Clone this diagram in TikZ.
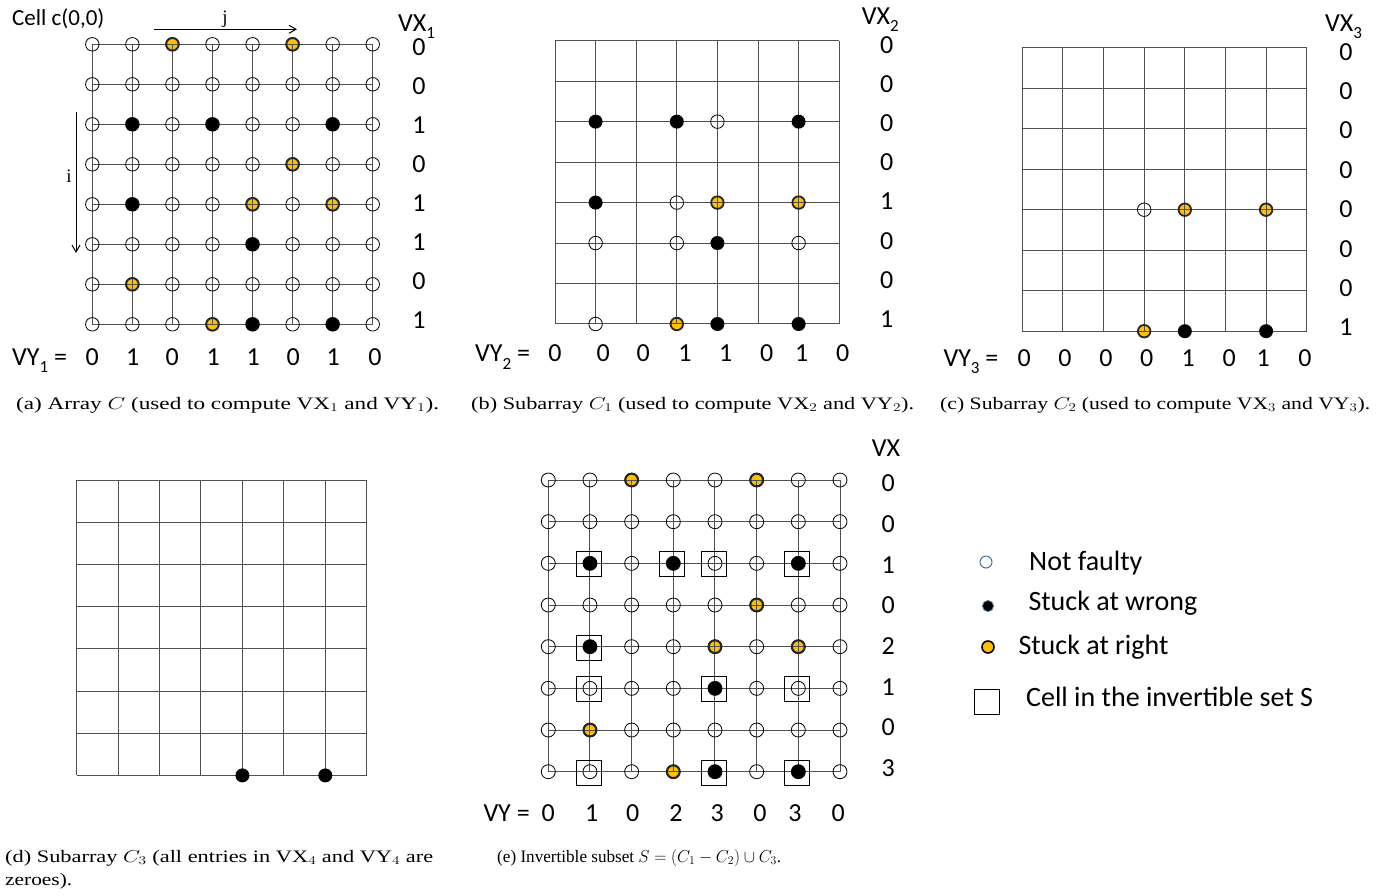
\documentclass[tikz,border=0pt]{standalone}
\usepackage{fontspec}
\setmainfont{Liberation Serif}
\newfontfamily\calib{Carlito}
\usetikzlibrary{arrows.meta}
\definecolor{dotorange}{RGB}{255,192,0}
\definecolor{legblue}{RGB}{65,113,156}
\definecolor{gridgray}{RGB}{80,80,80}
\newcommand{\mysub}[1]{\raisebox{-0.3em}{\fontsize{17}{17}\selectfont #1}}
\newcommand{\capt}[2]{\resizebox{#1}{\height}{\fontsize{17.5}{20}\selectfont #2}}
\begin{document}
\begin{tikzpicture}[x=1pt,y=-1pt,
  gridl/.style={draw=gridgray, line width=1pt},
  opn/.style={circle, draw=black, line width=0.8pt, inner sep=0pt, minimum size=13.5pt},
  orgo/.style={circle, draw=black!85, line width=1.8pt, inner sep=0pt, minimum size=12.5pt},
  blk/.style={circle, fill=black, inner sep=0pt, minimum size=14pt},
  sel/.style={rectangle, draw=black, line width=1.2pt, inner sep=0pt, minimum size=25pt},
  vlab/.style={font=\calib\fontsize{26}{26}\selectfont, anchor=base, inner sep=0pt},
  vhead/.style={font=\calib\fontsize{26}{26}\selectfont, anchor=base west, inner sep=0pt},
  legtxt/.style={font=\calib\fontsize{28}{28}\selectfont, anchor=base west, inner sep=0pt},
  captxt/.style={anchor=base west, inner sep=0pt},
  axarrow/.style={line width=1pt, -{Straight Barb[length=7pt,width=8pt]}}
]
\useasboundingbox (0,0) rectangle (1392,895);

% ---------------- Panel (a) ----------------
\foreach \r/\c in {0/2,0/5,3/5,4/4,4/6,6/1,7/3}
  \fill[dotorange] ({92.3+40.06*\c},{44.3+40*\r}) circle[radius=6.5pt];
\foreach \k in {0,...,7}{
  \draw[gridl] ({92.3+40.06*\k},44.3) -- ({92.3+40.06*\k},324.3);
  \draw[gridl] (92.3,{44.3+40*\k}) -- (372.7,{44.3+40*\k});
}
\foreach \r in {0,...,7}
  \foreach \c in {0,...,7}
    \node[opn] (a-\r-\c) at ({92.3+40.06*\c},{44.3+40*\r}) {};
\foreach \r/\c in {0/2,0/5,3/5,4/4,4/6,6/1,7/3}
  \node[orgo] (ao-\r-\c) at ({92.3+40.06*\c},{44.3+40*\r}) {};
\foreach \r/\c in {2/1,2/3,2/6,4/1,5/4,7/4,7/6}
  \node[blk] (ab-\r-\c) at ({92.3+40.06*\c},{44.3+40*\r}) {};
\node[vhead, font=\calib\fontsize{23}{23}\selectfont] (cell) at (12,25) {Cell c(0,0)};
\node[font=\fontsize{19}{19}\selectfont] (jlab) at (225,19) {j};
\node[font=\fontsize{19}{19}\selectfont] (ilab) at (69,176) {i};
\coordinate (js) at (154.3,29.3);
\coordinate (je) at (297,29.3);
\draw[axarrow] (js) -- (je);
\coordinate (is) at (76,112);
\coordinate (ie) at (76,253);
\draw[axarrow] (is) -- (ie);
\node[vhead] (vxa) at (398,31) {VX\mysub{1}};
\foreach \v [count=\i from 0] in {0,0,1,0,1,1,0,1}
  \node[vlab] (vxa-\i) at (419,{55+39*\i}) {\v};
\node[vhead] (vya) at (12,365) {VY\mysub{1} =};
\foreach \xx/\v [count=\i] in {92.3/0,132.7/1,172.3/0,213.3/1,253.3/1,293.3/0,333.3/1,375/0}
  \node[vlab] (vya-\i) at (\xx,365) {\v};
\node[captxt] (capa) at (16,409) {\capt{423pt}{(a) Array $C$ (used to compute VX$_1$ and VY$_1$).}};

% ---------------- Panel (b) ----------------
\foreach \r/\c in {4/4,4/6,7/3}
  \fill[dotorange] ({555+40.6*\c},{40.7+40.47*\r}) circle[radius=6.5pt];
\foreach \k in {0,...,7}{
  \draw[gridl] ({555+40.6*\k},40.7) -- ({555+40.6*\k},324);
  \draw[gridl] (555,{40.7+40.47*\k}) -- (839.2,{40.7+40.47*\k});
}
\foreach \r/\c in {2/4,4/3,5/1,5/3,5/6,7/1}
  \node[opn] (b-\r-\c) at ({555+40.6*\c},{40.7+40.47*\r}) {};
\foreach \r/\c in {4/4,4/6,7/3}
  \node[orgo] (bo-\r-\c) at ({555+40.6*\c},{40.7+40.47*\r}) {};
\foreach \r/\c in {2/1,2/3,2/6,4/1,5/4,7/4,7/6}
  \node[blk] (bb-\r-\c) at ({555+40.6*\c},{40.7+40.47*\r}) {};
\node[vhead] (vxb) at (861.7,24) {VX\mysub{2}};
\foreach \v [count=\i from 0] in {0,0,0,0,1,0,0,1}
  \node[vlab] (vxb-\i) at (886.7,{53.5+39.1*\i}) {\v};
\node[vhead] (vyb) at (475,361.7) {VY\mysub{2} =};
\foreach \xx/\v [count=\i] in {555/0,603.3/0,643.3/0,685/1,725.7/1,766.7/0,801.7/1,842.7/0}
  \node[vlab] (vyb-\i) at (\xx,361.7) {\v};
\node[captxt] (capb) at (471,409) {\capt{443pt}{(b) Subarray $C_1$ (used to compute VX$_2$ and VY$_2$).}};

% ---------------- Panel (c) ----------------
\foreach \r/\c in {4/4,4/6,7/3}
  \fill[dotorange] ({1022.3+40.63*\c},{47.7+40.5*\r}) circle[radius=6.5pt];
\foreach \k in {0,...,7}{
  \draw[gridl] ({1022.3+40.63*\k},47.7) -- ({1022.3+40.63*\k},331.2);
  \draw[gridl] (1022.3,{47.7+40.5*\k}) -- (1306.7,{47.7+40.5*\k});
}
\node[opn] (c-4-3) at ({1022.3+40.63*3},{47.7+40.5*4}) {};
\foreach \r/\c in {4/4,4/6,7/3}
  \node[orgo] (co-\r-\c) at ({1022.3+40.63*\c},{47.7+40.5*\r}) {};
\foreach \r/\c in {7/4,7/6}
  \node[blk] (cb-\r-\c) at ({1022.3+40.63*\c},{47.7+40.5*\r}) {};
\node[vhead] (vxc) at (1325,31) {VX\mysub{3}};
\foreach \v [count=\i from 0] in {0,0,0,0,0,0,0,1}
  \node[vlab] (vxc-\i) at (1346,{60+39.4*\i}) {\v};
\node[vhead] (vyc) at (943.3,366) {VY\mysub{3} =};
\foreach \xx/\v [count=\i] in {1024.3/0,1065/0,1106/0,1146.7/0,1188.3/1,1229.3/0,1263.3/1,1305/0}
  \node[vlab] (vyc-\i) at (\xx,366) {\v};
\node[captxt] (capc) at (940,409) {\capt{430pt}{(c) Subarray $C_2$ (used to compute VX$_3$ and VY$_3$).}};

% ---------------- Panel (d) ----------------
\foreach \k in {0,...,7}{
  \draw[gridl] ({76.7+41.43*\k},480) -- ({76.7+41.43*\k},775.4);
  \draw[gridl] (76.7,{480+42.2*\k}) -- (366.7,{480+42.2*\k});
}
\foreach \r/\c in {7/4,7/6}
  \node[blk] (db-\r-\c) at ({76.7+41.43*\c},{480+42.2*\r}) {};
\node[captxt] (capd1) at (5,862) {\capt{428pt}{(d) Subarray $C_3$ (all entries in VX$_4$ and VY$_4$ are}};
\node[captxt] (capd2) at (5,885.3) {\capt{67pt}{zeroes).}};

% ---------------- Panel (e) ----------------
\foreach \r/\c in {0/2,0/5,3/5,4/4,4/6,6/1,7/3}
  \fill[dotorange] ({548.3+41.67*\c},{480+41.67*\r}) circle[radius=6.5pt];
\foreach \k in {0,...,7}{
  \draw[gridl] ({548.3+41.67*\k},480) -- ({548.3+41.67*\k},771.7);
  \draw[gridl] (548.3,{480+41.67*\k}) -- (840,{480+41.67*\k});
}
\foreach \r in {0,...,7}
  \foreach \c in {0,...,7}
    \node[opn, minimum size=14pt] (e-\r-\c) at ({548.3+41.67*\c},{480+41.67*\r}) {};
\foreach \r/\c in {0/2,0/5,3/5,4/4,4/6,6/1,7/3}
  \node[orgo] (eo-\r-\c) at ({548.3+41.67*\c},{480+41.67*\r}) {};
\foreach \r/\c in {2/1,2/3,2/6,4/1,5/4,7/4,7/6}
  \node[blk] (eb-\r-\c) at ({548.3+41.67*\c},{480+41.67*\r}) {};
\foreach \r/\c in {2/1,2/3,2/4,2/6,4/1,5/1,5/4,5/6,7/1,7/4,7/6}
  \node[sel] (es-\r-\c) at ({548.3+41.67*\c-1},{480+41.67*\r+1}) {};
\node[vhead] (vxe) at (871.7,456.7) {VX};
\foreach \v [count=\i from 0] in {0,0,1,0,2,1,0,3}
  \node[vlab] (vxe-\i) at (888.3,{491.7+40.7*\i}) {\v};
\node[vhead] (vye) at (483.3,821.7) {VY =};
\foreach \xx/\v [count=\i] in {548.3/0,591.7/1,632.7/0,676/2,717.3/3,760/0,795/3,838.3/0}
  \node[vlab] (vye-\i) at (\xx,821.7) {\v};
\node[captxt] (cape) at (497,862) {\capt{284pt}{(e) Invertible subset $S = (C_1 - C_2) \cup C_3$.}};

% ---------------- Legend ----------------
\node[circle, draw=legblue, line width=1pt, inner sep=0pt, minimum size=12pt] (lg1) at (986,562) {};
\node[legtxt] (lt1) at (1029,570.7) {Not faulty};
\node[circle, fill=black, draw=legblue, line width=0.8pt, inner sep=0pt, minimum size=11pt] (lg2) at (988,606) {};
\node[legtxt] (lt2) at (1028.3,610) {Stuck at wrong};
\node[circle, fill=dotorange, draw=black, line width=1.6pt, inner sep=0pt, minimum size=12pt] (lg3) at (988,647) {};
\node[legtxt] (lt3) at (1018.3,654) {Stuck at right};
\node[sel] (lg4) at (986.7,701.7) {};
\node[legtxt] (lt4) at (1026,706.7) {Cell in the invertible set S};
\end{tikzpicture}
\end{document}
